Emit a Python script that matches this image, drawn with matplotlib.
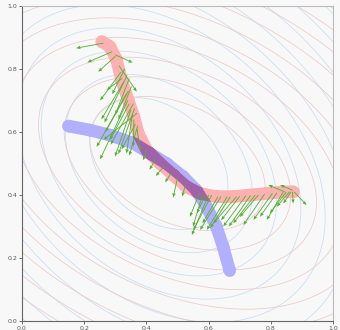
import numpy as np
import matplotlib
matplotlib.use("Agg")
import matplotlib.pyplot as plt
from matplotlib.path import Path
from matplotlib.patches import PathPatch

# ---- data ----
blue_x = [0.149, 0.219, 0.283, 0.357, 0.410, 0.465, 0.519, 0.560, 0.594, 0.625, 0.647, 0.668]
blue_y = [0.619, 0.606, 0.590, 0.565, 0.533, 0.500, 0.457, 0.416, 0.362, 0.300, 0.235, 0.160]

pink_x = [0.256, 0.283, 0.304, 0.320, 0.342, 0.360, 0.374, 0.401, 0.444, 0.487, 0.529,
          0.572, 0.625, 0.679, 0.733, 0.787, 0.840, 0.873]
pink_y = [0.887, 0.871, 0.829, 0.765, 0.700, 0.648, 0.595, 0.543, 0.500, 0.463, 0.426,
          0.405, 0.395, 0.395, 0.400, 0.405, 0.410, 0.410]

arrow_tail_x = [0.262, 0.290, 0.300, 0.300, 0.312, 0.318, 0.322, 0.330, 0.335, 0.340,
                0.345, 0.350, 0.355, 0.360, 0.365, 0.370, 0.352, 0.345, 0.338, 0.370,
                0.328, 0.342, 0.358, 0.362, 0.372,
                0.400, 0.430, 0.455, 0.480, 0.500, 0.525,
                0.600, 0.610, 0.570, 0.590, 0.640, 0.660, 0.690, 0.720, 0.750, 0.780,
                0.805, 0.820, 0.840, 0.850, 0.860, 0.865, 0.870, 0.875, 0.845, 0.870,
                0.630, 0.700, 0.760, 0.580, 0.670, 0.735]
arrow_tail_y = [0.882, 0.855, 0.840, 0.845, 0.810, 0.790, 0.770, 0.800, 0.720, 0.700,
                0.690, 0.670, 0.655, 0.640, 0.625, 0.610, 0.745, 0.770, 0.780, 0.660,
                0.760, 0.730, 0.690, 0.675, 0.620,
                0.545, 0.515, 0.490, 0.470, 0.455, 0.430,
                0.400, 0.400, 0.405, 0.400, 0.395, 0.395, 0.395, 0.398, 0.400, 0.403,
                0.405, 0.407, 0.410, 0.410, 0.410, 0.410, 0.410, 0.410, 0.410, 0.415,
                0.395, 0.396, 0.400, 0.400, 0.395, 0.399]
arrow_head_x = [0.174, 0.210, 0.245, 0.356, 0.369, 0.251, 0.272, 0.290, 0.240, 0.251,
                0.283, 0.299, 0.336, 0.358, 0.320, 0.380, 0.310, 0.300, 0.265, 0.262,
                0.255, 0.268, 0.285, 0.310, 0.345,
                0.390, 0.410, 0.430, 0.460, 0.486, 0.515,
                0.546, 0.551, 0.540, 0.562, 0.572, 0.594, 0.615, 0.647, 0.679, 0.712,
                0.744, 0.765, 0.787, 0.797, 0.819, 0.840, 0.872, 0.915, 0.792, 0.830,
                0.580, 0.640, 0.700, 0.550, 0.605, 0.665]
arrow_head_y = [0.866, 0.821, 0.791, 0.820, 0.728, 0.700, 0.733, 0.720, 0.553, 0.513,
                0.575, 0.522, 0.532, 0.553, 0.545, 0.540, 0.640, 0.655, 0.630, 0.575,
                0.640, 0.600, 0.560, 0.530, 0.525,
                0.510, 0.480, 0.460, 0.440, 0.392, 0.395,
                0.273, 0.289, 0.331, 0.342, 0.289, 0.289, 0.310, 0.300, 0.310, 0.305,
                0.321, 0.331, 0.321, 0.342, 0.363, 0.373, 0.373, 0.368, 0.432, 0.432,
                0.310, 0.320, 0.330, 0.300, 0.295, 0.300]

# contour families: centre, rotation (deg), axis scales, first level
blue_centre = (0.44, 0.50)
blue_angle = -40.0
blue_scales = (1.0, 0.70)
blue_first = 0.25
pink_centre = (0.50, 0.50)
pink_angle = -26.0
pink_scales = (1.0, 0.62)
pink_first = 0.30
level_step = 0.088

BG = "#f8f8f8"
BLUE = "#b0b0ff"
PINK = "#ffb0b0"
PURPLE = "#a062aa"
GREEN = "#55b035"


def capsule_path(xs, ys, r, n=28):
    verts, codes = [], []
    th = np.linspace(0, 2 * np.pi, n, endpoint=False)

    def add(poly):
        verts.extend(poly.tolist())
        verts.append(poly[0].tolist())
        codes.extend([Path.MOVETO] + [Path.LINETO] * (len(poly) - 1) + [Path.CLOSEPOLY])

    for x, y in zip(xs, ys):
        add(np.c_[x + r * np.cos(th), y + r * np.sin(th)])
    for i in range(len(xs) - 1):
        p0 = np.array([xs[i], ys[i]])
        p1 = np.array([xs[i + 1], ys[i + 1]])
        d = p1 - p0
        d = d / np.hypot(*d)
        nrm = np.array([-d[1], d[0]]) * r
        add(np.array([p0 - nrm, p1 - nrm, p1 + nrm, p0 + nrm]))
    return Path(np.array(verts), codes)


def field(X, Y, centre, angle, scales):
    a = np.deg2rad(angle)
    dx, dy = X - centre[0], Y - centre[1]
    u = dx * np.cos(a) + dy * np.sin(a)
    v = -dx * np.sin(a) + dy * np.cos(a)
    return np.sqrt((u / scales[0]) ** 2 + (v / scales[1]) ** 2)


fig = plt.figure(figsize=(3.4, 3.3), dpi=100, facecolor=BG)
ax = fig.add_axes([0.0647, 0.027, 0.9147, 0.955])
ax.set_facecolor(BG)

g = np.linspace(0, 1, 400)
X, Y = np.meshgrid(g, g)
ax.contour(X, Y, field(X, Y, blue_centre, blue_angle, blue_scales),
           levels=np.arange(blue_first, 2.0, level_step),
           colors="#c8dcf4", linewidths=0.55)
ax.contour(X, Y, field(X, Y, pink_centre, pink_angle, pink_scales),
           levels=np.arange(pink_first, 2.0, level_step),
           colors="#ebcaca", linewidths=0.55)

r = 0.020
bpath = capsule_path(blue_x, blue_y, r)
ppath = capsule_path(pink_x, pink_y, r)
bpatch = PathPatch(bpath, facecolor=BLUE, edgecolor="none", zorder=3)
ax.add_patch(bpatch)
ax.add_patch(PathPatch(ppath, facecolor=PINK, edgecolor="none", zorder=4))
over = PathPatch(ppath, facecolor=PURPLE, edgecolor="none", zorder=5)
ax.add_patch(over)
over.set_clip_path(bpatch)

tx = np.array(arrow_tail_x)
ty = np.array(arrow_tail_y)
ax.quiver(tx, ty, np.array(arrow_head_x) - tx, np.array(arrow_head_y) - ty,
          angles="xy", scale_units="xy", scale=1, color=GREEN, width=0.0028,
          headwidth=4, headlength=5, headaxislength=4.5, zorder=6)

ax.set_xlim(0, 1)
ax.set_ylim(0, 1)
ticks = [0.0, 0.2, 0.4, 0.6, 0.8, 1.0]
ax.set_xticks(ticks)
ax.set_yticks(ticks)
ax.set_xticklabels([f"{t:.1f}" for t in ticks])
ax.set_yticklabels([f"{t:.1f}" for t in ticks])
ax.tick_params(labelsize=4.5, length=2, width=0.6, colors="#555555", pad=1.5)
for s in ("left", "bottom"):
    ax.spines[s].set_color("#666666")
    ax.spines[s].set_linewidth(0.8)
for s in ("top", "right"):
    ax.spines[s].set_color("#bbbbbb")
    ax.spines[s].set_linewidth(0.8)

fig.savefig("out.png", dpi=100, facecolor=BG)
